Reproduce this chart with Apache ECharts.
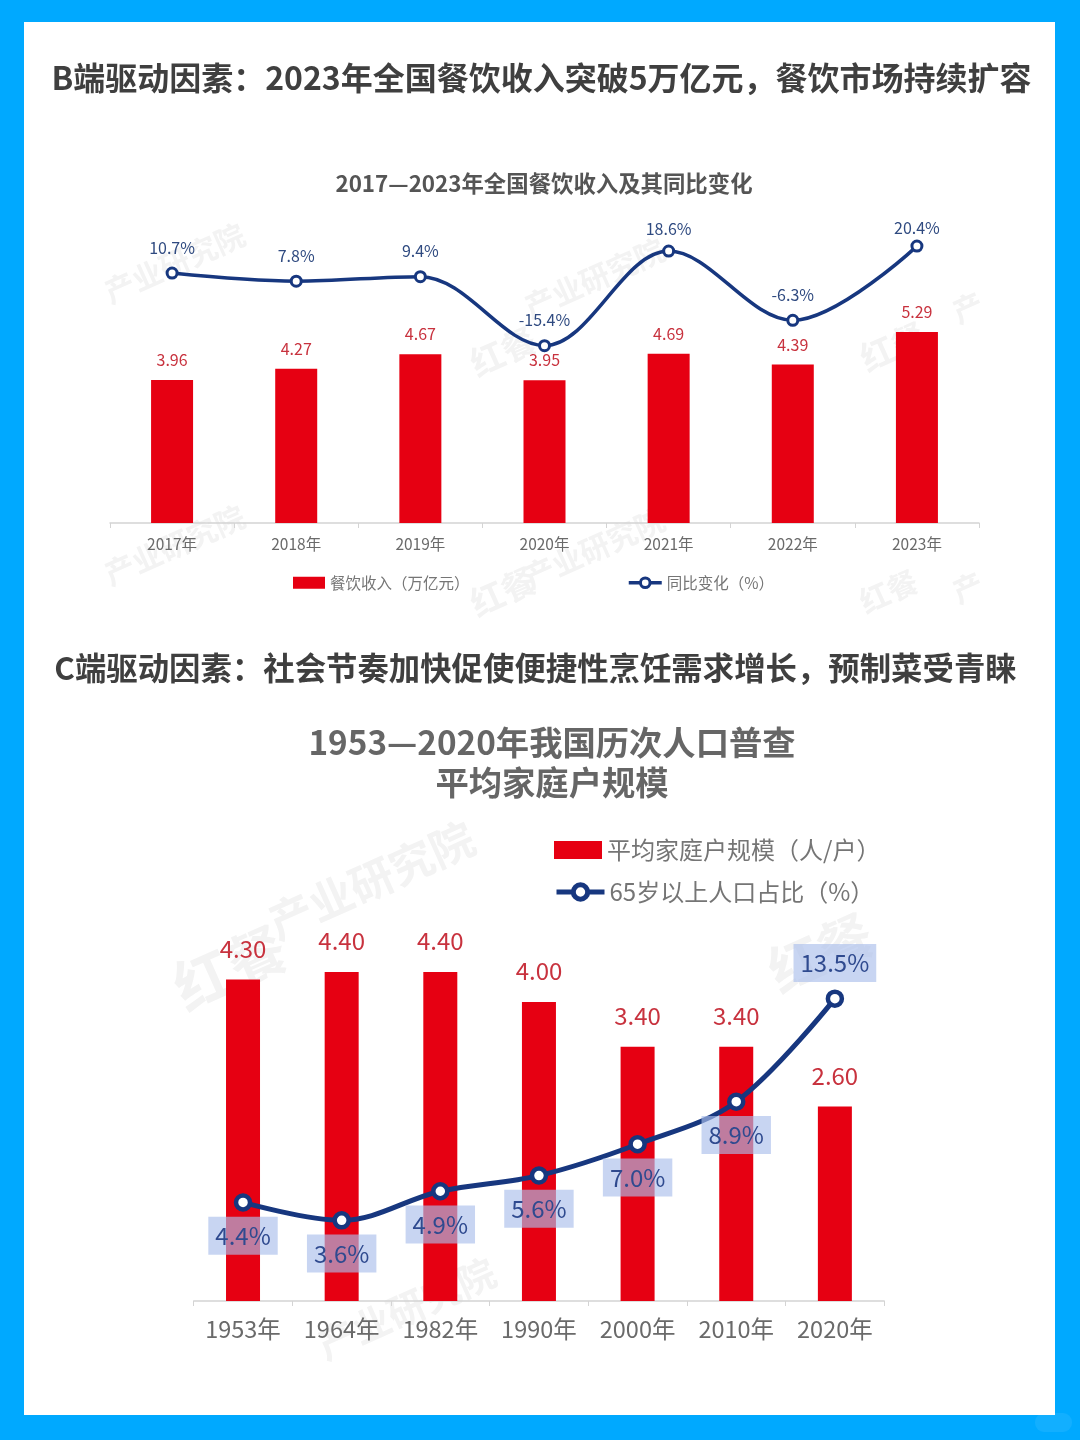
<!DOCTYPE html>
<html>
<head>
    <meta charset="utf-8">
    <title>餐饮收入与家庭户规模</title>
    <style>
        html, body { margin: 0; padding: 0; background: #00a9ff; }
        #chart { width: 1080px; height: 1440px; }
    </style>
</head>
<body>
<div id="chart"></div>
<script src="https://cdn.jsdelivr.net/npm/echarts@6/dist/echarts.min.js"></script>
<script>
    var font = '"Noto Sans CJK SC", "Noto Sans", sans-serif';
    var RED = '#e60012';
    var NAVY = '#17377f';

    // B端
    var incomeYears = ['2017年', '2018年', '2019年', '2020年', '2021年', '2022年', '2023年'];
    var incomeValues = [3.96, 4.27, 4.67, 3.95, 4.69, 4.39, 5.29];
    var incomeChange = [10.7, 7.8, 9.4, -15.4, 18.6, -6.3, 20.4];

    // C端
    var censusYears = ['1953年', '1964年', '1982年', '1990年', '2000年', '2010年', '2020年'];
    var householdSize = [4.30, 4.40, 4.40, 4.00, 3.40, 3.40, 2.60];
    var elderlyShare = [4.4, 3.6, 4.9, 5.6, 7.0, 8.9, 13.5];

    var titleB = 'B端驱动因素：2023年全国餐饮收入突破5万亿元，餐饮市场持续扩容';
    var titleC = 'C端驱动因素：社会节奏加快促使便捷性烹饪需求增长，预制菜受青睐';
    var chartTitleB = '2017—2023年全国餐饮收入及其同比变化';
    var chartTitleC = '1953—2020年我国历次人口普查\n平均家庭户规模';

    var myChart = echarts.init(document.getElementById('chart'));

    // 水印
    function mark(text, x, y, size) {
        return {
            type: 'text', x: x, y: y, rotation: 0.42, z: 1, silent: true,
            style: { text: text, fill: '#f3f3f3', font: 'bold ' + size + 'px ' + font }
        };
    }

    function xAxis(index, data, size, margin) {
        return {
            type: 'category', gridIndex: index, data: data, z: 3,
            axisLine: { lineStyle: { color: '#d4d4d4', width: 1.5 } },
            axisTick: { show: true, length: 5, lineStyle: { color: '#d4d4d4' } },
            axisLabel: { interval: 0, color: '#6a6a6a', fontSize: size, fontFamily: font, margin: margin }
        };
    }

    function yAxis(index, min, max) {
        return { type: 'value', gridIndex: index, min: min, max: max, show: false, splitLine: { show: false } };
    }

    function legendItem(name, left, top, w, h, size, icon, lineW, ringW) {
        var item = {
            data: [name], left: left, top: top, itemWidth: w, itemHeight: h, itemGap: 0, padding: 0,
            textStyle: { color: '#757575', fontSize: size, fontFamily: font }
        };
        if (icon) item.icon = icon;
        if (lineW) {
            item.lineStyle = { width: lineW };
            item.itemStyle = { borderWidth: ringW };
        }
        return item;
    }

    var option = {
        backgroundColor: '#00a9ff',
        animation: false,
        graphic: [
            { type: 'rect', z: 0, silent: true, shape: { x: 24, y: 22, width: 1031, height: 1393 }, style: { fill: '#fff' } },
            { type: 'rect', z: 1, silent: true, shape: { x: 1035, y: 1413, width: 37, height: 19, r: 9 }, style: { fill: 'rgba(255,255,255,0.07)' } },
            mark('产业研究院', 100, 280, 30), mark('红餐', 465, 350, 34), mark('产业研究院', 520, 295, 30), mark('红餐', 855, 345, 34), mark('产', 948, 300, 30),
            mark('产业研究院', 100, 562, 30), mark('红餐', 465, 590, 34), mark('产业研究院', 520, 565, 30), mark('红餐', 855, 590, 30), mark('产', 948, 580, 30),
            mark('红餐', 165, 965, 58), mark('产业研究院', 262, 905, 44), mark('红餐', 760, 950, 54), mark('产业研究院', 312, 1330, 38)
        ],
        title: [
            { text: titleB, left: 536.5, top: 57, textAlign: 'center', textStyle: { color: '#3f3f3f', fontSize: 32, fontWeight: 'bold', fontFamily: font } },
            { text: titleC, left: 530.5, top: 647, textAlign: 'center', textStyle: { color: '#3f3f3f', fontSize: 31.4, fontWeight: 'bold', fontFamily: font } },
            { text: chartTitleB, left: 539, top: 167, textAlign: 'center', textStyle: { color: '#555', fontSize: 22.4, fontWeight: 'bold', fontFamily: font } },
            { text: chartTitleC, left: 547, top: 717, textAlign: 'center', textStyle: { color: '#666', fontSize: 33.3, lineHeight: 40, fontWeight: 'bold', fontFamily: font } }
        ],
        legend: [
            legendItem('餐饮收入（万亿元）', 293, 575, 32, 12, 15.5, 'rect'),
            legendItem('同比变化（%）', 627, 575, 33, 12, 15.5, null, 3.5, 3),
            legendItem('平均家庭户规模（人/户）', 554, 838, 48, 18, 24, 'rect'),
            legendItem('65岁以上人口占比（%）', 554, 880, 48, 18, 24, null, 5, 5)
        ],
        grid: [
            { left: 110, width: 869, top: 198, height: 325 },
            { left: 193.7, width: 690.5, top: 901, height: 400 }
        ],
        xAxis: [xAxis(0, incomeYears, 15.5, 13), xAxis(1, censusYears, 23.5, 16)],
        yAxis: [yAxis(0, 0, 9), yAxis(0, -79.2, 37.7), yAxis(1, 0, 5.35), yAxis(1, 0, 17.86)],
        series: [
            {
                name: '餐饮收入（万亿元）', type: 'bar', xAxisIndex: 0, yAxisIndex: 0, data: incomeValues, barWidth: 42, z: 3,
                itemStyle: { color: RED },
                label: { show: true, position: 'top', distance: 12, color: '#c8323e', fontSize: 16, fontFamily: font, formatter: function (p) { return p.value.toFixed(2); } }
            },
            {
                name: '同比变化（%）', type: 'line', xAxisIndex: 0, yAxisIndex: 1, data: incomeChange, smooth: 0.35, z: 4,
                symbol: 'circle', symbolSize: 10,
                lineStyle: { color: NAVY, width: 3.5 },
                itemStyle: { color: '#fff', borderColor: NAVY, borderWidth: 3 },
                label: { show: true, position: 'top', distance: 11, color: '#2f4a80', fontSize: 16, fontFamily: font, formatter: '{c}%' },
                labelLayout: function (p) {
                    if (p.dataIndex === 6) return { dy: 7 };
                    if (p.dataIndex === 4) return { dy: 3 };
                    return {};
                }
            },
            {
                name: '平均家庭户规模（人/户）', type: 'bar', xAxisIndex: 1, yAxisIndex: 2, data: householdSize, barWidth: 34, z: 3,
                itemStyle: { color: RED },
                label: { show: true, position: 'top', distance: 19, color: '#c8323e', fontSize: 24, fontFamily: font, formatter: function (p) { return p.value.toFixed(2); } }
            },
            {
                name: '65岁以上人口占比（%）', type: 'line', xAxisIndex: 1, yAxisIndex: 3, data: elderlyShare, smooth: 0.35, z: 4,
                symbol: 'circle', symbolSize: 14,
                lineStyle: { color: NAVY, width: 5 },
                itemStyle: { color: '#fff', borderColor: NAVY, borderWidth: 4.5 },
                label: {
                    show: true, position: 'bottom', distance: 5, color: '#2f4a8f', fontSize: 24, fontFamily: font,
                    backgroundColor: 'rgba(170,190,235,0.65)', padding: [7, 7, 7, 7],
                    formatter: function (p) { return p.value.toFixed(1) + '%'; }
                },
                labelLayout: function (p) { return p.dataIndex === 6 ? { dy: -69 } : {}; }
            }
        ]
    };
    myChart.setOption(option);
</script>
</body>
</html>
